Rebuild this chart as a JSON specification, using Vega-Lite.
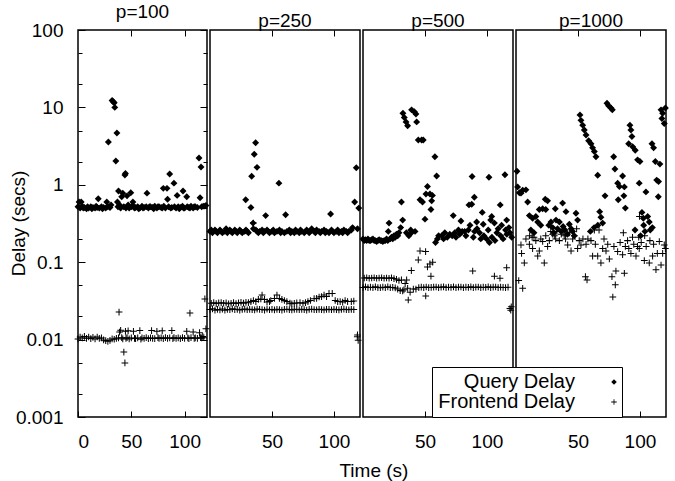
{
"$schema":"https://vega.github.io/schema/vega-lite/v6.json",
"padding":{"left":8,"top":2,"right":5,"bottom":2},
"bounds":"flush",
"spacing":3,
"title":{"text":"Time (s)","orient":"bottom","anchor":"middle","offset":10,"dx":35,"fontWeight":"normal"},
"config":{
 "font":"Liberation Sans",
 "view":{"stroke":"black","strokeWidth":1.5},
 "axis":{"domain":false,"grid":false,"tickColor":"black","tickWidth":1,"labelColor":"black","labelFont":"Liberation Sans","labelFontSize":19,"titleFont":"Liberation Sans","titleFontSize":19,"titleFontWeight":"normal","titleColor":"black"},
 "title":{"font":"Liberation Sans","fontSize":19,"fontWeight":"normal","color":"black","anchor":"middle","offset":-1}
},
"resolve":{"scale":{"shape":"independent"},"legend":{"shape":"independent"}},
"datasets":{
"q100":[{"t":0,"v":0.52},{"t":1,"v":0.6},{"t":2,"v":0.5},{"t":3,"v":0.6},{"t":4,"v":0.53},{"t":5,"v":0.5},{"t":6,"v":0.51},{"t":8,"v":0.49},{"t":9,"v":0.52},{"t":10,"v":0.5},{"t":12,"v":0.52},{"t":13,"v":0.49},{"t":14,"v":0.51},{"t":16,"v":0.5},{"t":17,"v":0.53},{"t":18,"v":0.51},{"t":19,"v":0.66},{"t":20,"v":0.5},{"t":22,"v":0.52},{"t":23,"v":0.49},{"t":24,"v":0.51},{"t":26,"v":0.5},{"t":27,"v":0.6},{"t":28,"v":0.52},{"t":28.5,"v":3.57},{"t":30,"v":0.51},{"t":31,"v":0.55},{"t":32,"v":12.3},{"t":33,"v":11.8},{"t":34,"v":11.5},{"t":34.5,"v":10},{"t":35.5,"v":2.03},{"t":36.5,"v":4.67},{"t":37,"v":0.6},{"t":37.5,"v":0.52},{"t":38,"v":0.83},{"t":39,"v":0.55},{"t":40,"v":0.5},{"t":41,"v":0.7},{"t":42,"v":0.78},{"t":43,"v":0.52},{"t":44,"v":1.34},{"t":44.5,"v":1.4},{"t":45,"v":0.5},{"t":46,"v":0.72},{"t":47,"v":0.55},{"t":48,"v":0.5},{"t":49.5,"v":0.79},{"t":50,"v":0.52},{"t":51.5,"v":0.6},{"t":52,"v":0.53},{"t":53,"v":0.5},{"t":54,"v":0.51},{"t":56,"v":0.52},{"t":57,"v":0.49},{"t":58,"v":0.5},{"t":60,"v":0.53},{"t":61,"v":0.5},{"t":62,"v":0.51},{"t":64,"v":0.52},{"t":64.7,"v":0.78},{"t":66,"v":0.5},{"t":67,"v":0.52},{"t":68,"v":0.52},{"t":70,"v":0.51},{"t":71,"v":0.49},{"t":72,"v":0.53},{"t":74,"v":0.5},{"t":75,"v":0.52},{"t":76,"v":0.52},{"t":78,"v":0.51},{"t":79,"v":0.5},{"t":80,"v":0.9},{"t":80.5,"v":0.53},{"t":82,"v":0.5},{"t":83.5,"v":0.9},{"t":84,"v":0.65},{"t":85,"v":0.52},{"t":86,"v":1.38},{"t":87,"v":0.5},{"t":88,"v":0.51},{"t":90,"v":1.05},{"t":90.5,"v":0.52},{"t":92,"v":0.5},{"t":93,"v":0.73},{"t":94,"v":0.52},{"t":95,"v":0.49},{"t":96,"v":0.51},{"t":98,"v":0.53},{"t":98.5,"v":0.83},{"t":99,"v":0.5},{"t":100,"v":0.5},{"t":102,"v":0.7},{"t":102.5,"v":0.52},{"t":104,"v":0.51},{"t":105,"v":0.5},{"t":106,"v":0.53},{"t":108,"v":0.5},{"t":109,"v":0.52},{"t":110,"v":0.52},{"t":112,"v":0.51},{"t":113.5,"v":2.22},{"t":114.5,"v":0.68},{"t":115.4,"v":1.7},{"t":116,"v":0.52},{"t":117.5,"v":0.53},{"t":119,"v":0.53},{"t":120,"v":0.54}],
"f100":[{"t":0,"v":0.0102},{"t":2,"v":0.0108},{"t":4,"v":0.0105},{"t":6,"v":0.011},{"t":8,"v":0.0104},{"t":10,"v":0.0108},{"t":12,"v":0.0103},{"t":14,"v":0.0107},{"t":16,"v":0.0102},{"t":18,"v":0.0108},{"t":20,"v":0.0104},{"t":22,"v":0.0105},{"t":24,"v":0.0099},{"t":26,"v":0.0097},{"t":28,"v":0.0095},{"t":30,"v":0.0098},{"t":32,"v":0.0102},{"t":34,"v":0.0101},{"t":36,"v":0.0104},{"t":38,"v":0.0105},{"t":38.5,"v":0.0227},{"t":39,"v":0.0125},{"t":40,"v":0.0132},{"t":41,"v":0.0106},{"t":42,"v":0.0102},{"t":43,"v":0.0069},{"t":44,"v":0.005},{"t":44.5,"v":0.0128},{"t":45,"v":0.0104},{"t":46,"v":0.0106},{"t":47,"v":0.013},{"t":48,"v":0.0102},{"t":50,"v":0.0105},{"t":52,"v":0.0128},{"t":53,"v":0.0104},{"t":54,"v":0.0103},{"t":56,"v":0.0105},{"t":58,"v":0.0131},{"t":59,"v":0.0101},{"t":60,"v":0.0105},{"t":62,"v":0.0104},{"t":64,"v":0.0106},{"t":66,"v":0.0103},{"t":68,"v":0.0105},{"t":69,"v":0.0131},{"t":70,"v":0.0104},{"t":72,"v":0.0103},{"t":74,"v":0.0128},{"t":75,"v":0.0106},{"t":76,"v":0.0104},{"t":78,"v":0.0105},{"t":79,"v":0.013},{"t":80,"v":0.0103},{"t":82,"v":0.0106},{"t":84,"v":0.0104},{"t":86,"v":0.0105},{"t":88,"v":0.0131},{"t":89,"v":0.0103},{"t":90,"v":0.0106},{"t":92,"v":0.0104},{"t":94,"v":0.0105},{"t":96,"v":0.0103},{"t":98,"v":0.0106},{"t":100,"v":0.0104},{"t":102,"v":0.0128},{"t":103,"v":0.0105},{"t":104,"v":0.0103},{"t":105,"v":0.022},{"t":106,"v":0.0106},{"t":108,"v":0.0125},{"t":109,"v":0.0104},{"t":110,"v":0.0105},{"t":112,"v":0.0104},{"t":114,"v":0.0123},{"t":115,"v":0.0106},{"t":116,"v":0.0105},{"t":117,"v":0.011},{"t":118,"v":0.0106},{"t":119,"v":0.0335},{"t":120,"v":0.0138}],
"q250":[{"t":0,"v":0.25},{"t":1,"v":0.26},{"t":2,"v":0.24},{"t":4,"v":0.26},{"t":5,"v":0.25},{"t":6,"v":0.24},{"t":8,"v":0.26},{"t":9,"v":0.25},{"t":10,"v":0.24},{"t":12,"v":0.25},{"t":13,"v":0.27},{"t":14,"v":0.24},{"t":16,"v":0.26},{"t":17,"v":0.25},{"t":18,"v":0.24},{"t":20,"v":0.26},{"t":21,"v":0.25},{"t":22,"v":0.24},{"t":24,"v":0.26},{"t":25,"v":0.25},{"t":26,"v":0.24},{"t":28,"v":0.25},{"t":28.8,"v":0.64},{"t":29,"v":0.26},{"t":30,"v":0.25},{"t":31,"v":0.24},{"t":33,"v":0.51},{"t":33.6,"v":1.29},{"t":34.7,"v":0.32},{"t":35.7,"v":2.48},{"t":36.8,"v":3.5},{"t":37.9,"v":1.68},{"t":35,"v":0.27},{"t":37,"v":0.26},{"t":38,"v":0.25},{"t":39,"v":0.24},{"t":40,"v":0.25},{"t":42,"v":0.26},{"t":43,"v":0.24},{"t":44,"v":0.25},{"t":44.9,"v":0.4},{"t":46,"v":0.26},{"t":47,"v":0.25},{"t":48,"v":0.24},{"t":50,"v":0.25},{"t":51,"v":0.26},{"t":52,"v":0.24},{"t":54,"v":0.25},{"t":55.6,"v":1.05},{"t":56,"v":0.26},{"t":57,"v":0.24},{"t":58,"v":0.25},{"t":60,"v":0.24},{"t":61,"v":0.41},{"t":62,"v":0.25},{"t":64,"v":0.26},{"t":65,"v":0.24},{"t":66,"v":0.25},{"t":68,"v":0.24},{"t":69,"v":0.26},{"t":70,"v":0.25},{"t":72,"v":0.24},{"t":73,"v":0.26},{"t":74,"v":0.25},{"t":76,"v":0.24},{"t":77,"v":0.25},{"t":78,"v":0.26},{"t":80,"v":0.24},{"t":81,"v":0.25},{"t":82,"v":0.27},{"t":84,"v":0.25},{"t":85,"v":0.24},{"t":86,"v":0.26},{"t":88,"v":0.25},{"t":89,"v":0.24},{"t":90,"v":0.25},{"t":92,"v":0.26},{"t":93,"v":0.24},{"t":94,"v":0.25},{"t":96,"v":0.24},{"t":97.3,"v":0.42},{"t":98,"v":0.26},{"t":99,"v":0.25},{"t":100,"v":0.24},{"t":102,"v":0.25},{"t":103,"v":0.26},{"t":104,"v":0.24},{"t":106,"v":0.25},{"t":107,"v":0.24},{"t":108,"v":0.26},{"t":110,"v":0.25},{"t":111,"v":0.24},{"t":112,"v":0.25},{"t":114,"v":0.26},{"t":115,"v":0.28},{"t":116.7,"v":0.6},{"t":118,"v":1.66},{"t":119,"v":0.27},{"t":120,"v":0.5}],
"f250":[{"t":1,"v":0.0295},{"t":3,"v":0.03},{"t":5,"v":0.0292},{"t":7,"v":0.0298},{"t":9,"v":0.03},{"t":11,"v":0.0295},{"t":13,"v":0.0298},{"t":15,"v":0.029},{"t":17,"v":0.0295},{"t":19,"v":0.03},{"t":21,"v":0.0292},{"t":23,"v":0.0298},{"t":25,"v":0.0302},{"t":27,"v":0.0296},{"t":29,"v":0.0303},{"t":31,"v":0.03},{"t":33,"v":0.031},{"t":35,"v":0.032},{"t":37,"v":0.031},{"t":39,"v":0.033},{"t":41,"v":0.0335},{"t":42,"v":0.0377},{"t":44,"v":0.033},{"t":46,"v":0.0307},{"t":48,"v":0.031},{"t":49,"v":0.032},{"t":52,"v":0.034},{"t":54,"v":0.0377},{"t":56,"v":0.034},{"t":58,"v":0.033},{"t":60,"v":0.032},{"t":62,"v":0.031},{"t":64.5,"v":0.0296},{"t":66,"v":0.029},{"t":68,"v":0.0295},{"t":70,"v":0.0298},{"t":72.6,"v":0.03},{"t":75,"v":0.0295},{"t":77,"v":0.03},{"t":79,"v":0.031},{"t":81,"v":0.032},{"t":84,"v":0.0338},{"t":86,"v":0.034},{"t":88,"v":0.0355},{"t":90,"v":0.036},{"t":92,"v":0.0377},{"t":94,"v":0.036},{"t":96,"v":0.0395},{"t":98.6,"v":0.0395},{"t":101,"v":0.032},{"t":103,"v":0.031},{"t":105,"v":0.031},{"t":107,"v":0.0305},{"t":109,"v":0.032},{"t":111,"v":0.031},{"t":114,"v":0.031},{"t":116,"v":0.0315},{"t":0,"v":0.0245},{"t":2,"v":0.025},{"t":4,"v":0.024},{"t":6,"v":0.0245},{"t":8,"v":0.0242},{"t":10,"v":0.0248},{"t":12,"v":0.024},{"t":14,"v":0.0245},{"t":16,"v":0.0243},{"t":18,"v":0.025},{"t":20,"v":0.0244},{"t":22,"v":0.0246},{"t":24,"v":0.0241},{"t":26,"v":0.0245},{"t":28,"v":0.0248},{"t":30,"v":0.0243},{"t":32,"v":0.0246},{"t":34,"v":0.0244},{"t":36,"v":0.0242},{"t":38,"v":0.0248},{"t":40,"v":0.0245},{"t":42,"v":0.0244},{"t":44,"v":0.0241},{"t":46,"v":0.0247},{"t":48,"v":0.0243},{"t":50,"v":0.0245},{"t":52,"v":0.0242},{"t":54,"v":0.0246},{"t":56,"v":0.0244},{"t":58,"v":0.0241},{"t":60,"v":0.0245},{"t":62,"v":0.0247},{"t":64,"v":0.0244},{"t":66,"v":0.0242},{"t":68,"v":0.0246},{"t":70,"v":0.0245},{"t":72,"v":0.0243},{"t":74,"v":0.0246},{"t":76,"v":0.0244},{"t":78,"v":0.0241},{"t":80,"v":0.0245},{"t":82,"v":0.0247},{"t":84,"v":0.0244},{"t":86,"v":0.0243},{"t":88,"v":0.0246},{"t":90,"v":0.0244},{"t":92,"v":0.0242},{"t":94,"v":0.0246},{"t":96,"v":0.0245},{"t":98,"v":0.0243},{"t":100,"v":0.0246},{"t":102,"v":0.0244},{"t":104,"v":0.0242},{"t":106,"v":0.0245},{"t":108,"v":0.0247},{"t":110,"v":0.0244},{"t":112,"v":0.0243},{"t":114,"v":0.0246},{"t":116,"v":0.0244},{"t":35,"v":0.32},{"t":118.8,"v":0.0109},{"t":119.5,"v":0.0098},{"t":119,"v":0.0115}],
"q500":[{"t":0,"v":0.2},{"t":1,"v":0.19},{"t":2,"v":0.195},{"t":3,"v":0.19},{"t":4,"v":0.2},{"t":5,"v":0.19},{"t":6,"v":0.19},{"t":7,"v":0.195},{"t":8,"v":0.2},{"t":9,"v":0.19},{"t":10,"v":0.19},{"t":11,"v":0.185},{"t":12,"v":0.19},{"t":13,"v":0.195},{"t":14,"v":0.19},{"t":15,"v":0.19},{"t":16,"v":0.185},{"t":17,"v":0.19},{"t":18,"v":0.19},{"t":19,"v":0.2},{"t":20,"v":0.19},{"t":20.4,"v":0.25},{"t":21,"v":0.32},{"t":22,"v":0.2},{"t":23,"v":0.21},{"t":24,"v":0.2},{"t":25,"v":0.22},{"t":26,"v":0.21},{"t":27,"v":0.23},{"t":28,"v":0.22},{"t":29,"v":0.24},{"t":30.4,"v":0.28},{"t":31,"v":0.6},{"t":32,"v":0.35},{"t":32.2,"v":8.4},{"t":33.3,"v":7.4},{"t":34.7,"v":6.5},{"t":36,"v":5.8},{"t":35,"v":0.24},{"t":37,"v":0.22},{"t":38.5,"v":0.26},{"t":39,"v":0.24},{"t":39.2,"v":9.3},{"t":41.4,"v":8.8},{"t":42.7,"v":8.2},{"t":43.3,"v":6.5},{"t":42,"v":0.25},{"t":44.6,"v":3.8},{"t":46,"v":0.64},{"t":47.3,"v":3.8},{"t":48.6,"v":3.8},{"t":48,"v":0.6},{"t":50,"v":0.36},{"t":50.8,"v":0.76},{"t":52,"v":0.95},{"t":54,"v":0.76},{"t":54.8,"v":0.48},{"t":55.4,"v":0.62},{"t":56,"v":0.73},{"t":58,"v":2.3},{"t":59.4,"v":1.3},{"t":58.5,"v":0.18},{"t":60,"v":0.2},{"t":61,"v":0.22},{"t":63.5,"v":0.22},{"t":65,"v":0.2},{"t":66,"v":0.24},{"t":68,"v":0.21},{"t":70,"v":0.23},{"t":72,"v":0.22},{"t":72.8,"v":0.4},{"t":74,"v":0.24},{"t":75,"v":0.21},{"t":77,"v":0.26},{"t":78,"v":0.23},{"t":79,"v":0.34},{"t":80,"v":0.25},{"t":82,"v":0.25},{"t":83,"v":0.22},{"t":85,"v":0.26},{"t":85.5,"v":0.55},{"t":86.3,"v":0.3},{"t":87.7,"v":0.56},{"t":88,"v":1.28},{"t":89,"v":0.21},{"t":89.8,"v":0.69},{"t":90,"v":0.25},{"t":91.7,"v":0.33},{"t":92,"v":0.27},{"t":94,"v":0.24},{"t":95,"v":0.2},{"t":96.2,"v":0.44},{"t":97,"v":0.31},{"t":97.5,"v":0.22},{"t":99.7,"v":0.2},{"t":101,"v":0.26},{"t":101.6,"v":1.25},{"t":102,"v":0.18},{"t":103,"v":0.35},{"t":103.8,"v":0.39},{"t":104,"v":0.21},{"t":106.5,"v":0.19},{"t":106,"v":0.32},{"t":108,"v":0.24},{"t":109,"v":0.27},{"t":110.7,"v":0.55},{"t":111,"v":0.22},{"t":111.8,"v":0.3},{"t":113,"v":0.2},{"t":114.5,"v":1.35},{"t":115,"v":0.26},{"t":115.9,"v":0.35},{"t":116,"v":0.23},{"t":117.7,"v":0.28},{"t":118.5,"v":0.24},{"t":120,"v":0.21}],
"f500":[{"t":0,"v":0.047},{"t":2,"v":0.048},{"t":4,"v":0.047},{"t":6,"v":0.0475},{"t":8,"v":0.047},{"t":10,"v":0.048},{"t":12,"v":0.047},{"t":14,"v":0.0468},{"t":16,"v":0.0475},{"t":18,"v":0.047},{"t":20,"v":0.048},{"t":22,"v":0.047},{"t":24,"v":0.0472},{"t":26,"v":0.0465},{"t":28,"v":0.045},{"t":30,"v":0.043},{"t":32,"v":0.0425},{"t":33,"v":0.044},{"t":36,"v":0.046},{"t":38,"v":0.041},{"t":40.6,"v":0.045},{"t":42.7,"v":0.045},{"t":45,"v":0.047},{"t":47,"v":0.0475},{"t":49,"v":0.047},{"t":51,"v":0.0478},{"t":53,"v":0.047},{"t":55,"v":0.0472},{"t":57,"v":0.0475},{"t":59,"v":0.0478},{"t":61,"v":0.047},{"t":63,"v":0.0475},{"t":65,"v":0.048},{"t":67,"v":0.047},{"t":69,"v":0.0476},{"t":71,"v":0.0472},{"t":73,"v":0.048},{"t":75,"v":0.047},{"t":77,"v":0.0475},{"t":79,"v":0.0478},{"t":81,"v":0.047},{"t":83,"v":0.0476},{"t":85,"v":0.0472},{"t":87,"v":0.048},{"t":89,"v":0.047},{"t":91,"v":0.0475},{"t":93,"v":0.0478},{"t":95,"v":0.047},{"t":97,"v":0.0476},{"t":99,"v":0.0472},{"t":101,"v":0.048},{"t":103,"v":0.047},{"t":105,"v":0.0475},{"t":107,"v":0.0478},{"t":109,"v":0.047},{"t":111,"v":0.0476},{"t":113,"v":0.0472},{"t":115,"v":0.047},{"t":117,"v":0.0475},{"t":1,"v":0.0625},{"t":3,"v":0.063},{"t":5,"v":0.062},{"t":7,"v":0.0625},{"t":9,"v":0.063},{"t":11,"v":0.062},{"t":13,"v":0.0625},{"t":15,"v":0.063},{"t":17,"v":0.062},{"t":19,"v":0.0625},{"t":21,"v":0.062},{"t":23,"v":0.063},{"t":25,"v":0.0615},{"t":27,"v":0.06},{"t":29,"v":0.058},{"t":31,"v":0.059},{"t":34,"v":0.053},{"t":35.2,"v":0.059},{"t":36.5,"v":0.0325},{"t":39,"v":0.078},{"t":44.6,"v":0.107},{"t":46,"v":0.14},{"t":50.5,"v":0.137},{"t":50.6,"v":0.0366},{"t":52,"v":0.087},{"t":54,"v":0.095},{"t":54.8,"v":0.066},{"t":56.2,"v":0.1},{"t":88.5,"v":0.077},{"t":106,"v":0.066},{"t":110.5,"v":0.062},{"t":115.9,"v":0.085},{"t":118.5,"v":0.0252},{"t":119.2,"v":0.024},{"t":119.6,"v":0.0265}],
"q1000":[{"t":0.8,"v":1.5},{"t":1.3,"v":0.94},{"t":2.7,"v":0.79},{"t":4,"v":0.78},{"t":5.4,"v":0.85},{"t":8,"v":0.86},{"t":9.4,"v":0.6},{"t":10.8,"v":0.4},{"t":12,"v":0.26},{"t":13.4,"v":0.37},{"t":14.5,"v":0.24},{"t":16,"v":0.39},{"t":17.5,"v":0.33},{"t":18.8,"v":0.48},{"t":20,"v":0.3},{"t":21.5,"v":0.49},{"t":23.6,"v":0.65},{"t":24,"v":0.48},{"t":25.5,"v":0.62},{"t":26.5,"v":0.3},{"t":28.2,"v":0.33},{"t":29.6,"v":0.28},{"t":30.5,"v":0.24},{"t":31.7,"v":0.49},{"t":32.3,"v":0.35},{"t":33.5,"v":0.27},{"t":35,"v":0.33},{"t":36.5,"v":0.25},{"t":37.6,"v":0.58},{"t":38,"v":0.29},{"t":39.5,"v":0.26},{"t":40.3,"v":0.45},{"t":41.5,"v":0.23},{"t":43,"v":0.31},{"t":44.5,"v":0.27},{"t":45.7,"v":0.25},{"t":47,"v":0.22},{"t":48.4,"v":0.43},{"t":49.7,"v":0.35},{"t":51.6,"v":8},{"t":52.4,"v":6.8},{"t":53.8,"v":5.9},{"t":55.1,"v":5.1},{"t":56.5,"v":4.4},{"t":58.6,"v":3.7},{"t":60.5,"v":3.4},{"t":61.8,"v":3},{"t":63.2,"v":2.7},{"t":64.5,"v":2.3},{"t":65.9,"v":1.33},{"t":60,"v":0.25},{"t":63,"v":0.28},{"t":66,"v":0.3},{"t":67.5,"v":0.45},{"t":68.5,"v":0.38},{"t":69.9,"v":0.32},{"t":71.8,"v":0.72},{"t":73.4,"v":11.3},{"t":74.7,"v":10.5},{"t":76.6,"v":9.8},{"t":77.7,"v":9.3},{"t":78.8,"v":2.3},{"t":79.8,"v":1.6},{"t":82,"v":1.05},{"t":82.5,"v":0.64},{"t":83.4,"v":0.95},{"t":86,"v":1.3},{"t":87,"v":0.72},{"t":87.4,"v":0.94},{"t":88.2,"v":0.5},{"t":90.9,"v":3.4},{"t":91.9,"v":5.9},{"t":92.7,"v":5.1},{"t":93.5,"v":4.2},{"t":94.1,"v":3.1},{"t":96.2,"v":2.8},{"t":96,"v":0.26},{"t":98.1,"v":2.1},{"t":99.4,"v":1.05},{"t":100,"v":2},{"t":100.5,"v":0.22},{"t":101.6,"v":0.44},{"t":102.7,"v":0.37},{"t":103,"v":0.3},{"t":104,"v":0.25},{"t":104.8,"v":0.81},{"t":106.2,"v":0.39},{"t":107.5,"v":0.33},{"t":108.3,"v":0.26},{"t":109.7,"v":3.4},{"t":110,"v":0.28},{"t":111,"v":3},{"t":112.4,"v":2},{"t":113.5,"v":1.15},{"t":114.8,"v":0.7},{"t":115,"v":1.1},{"t":116.1,"v":1.85},{"t":117,"v":9.3},{"t":117.7,"v":7.2},{"t":118.3,"v":8.4},{"t":119.6,"v":6.2},{"t":120.5,"v":9.8}],
"f1000":[{"t":2.2,"v":0.058},{"t":4,"v":0.167},{"t":4.5,"v":0.13},{"t":5.4,"v":0.046},{"t":6.7,"v":0.098},{"t":8,"v":0.2},{"t":10.8,"v":0.17},{"t":11,"v":0.22},{"t":13,"v":0.21},{"t":13.4,"v":0.15},{"t":14.5,"v":0.21},{"t":16,"v":0.19},{"t":17.5,"v":0.12},{"t":18.8,"v":0.14},{"t":20,"v":0.2},{"t":21.5,"v":0.185},{"t":22.8,"v":0.098},{"t":24,"v":0.22},{"t":25.5,"v":0.16},{"t":26.9,"v":0.19},{"t":28,"v":0.25},{"t":29.6,"v":0.23},{"t":30.9,"v":0.22},{"t":32,"v":0.2},{"t":33,"v":0.25},{"t":35,"v":0.19},{"t":36.5,"v":0.23},{"t":38,"v":0.25},{"t":38.9,"v":0.22},{"t":40,"v":0.2},{"t":41.7,"v":0.167},{"t":43,"v":0.24},{"t":44.4,"v":0.14},{"t":45.7,"v":0.2},{"t":47,"v":0.22},{"t":48.9,"v":0.27},{"t":49.7,"v":0.15},{"t":51,"v":0.19},{"t":52.4,"v":0.167},{"t":54,"v":0.2},{"t":56,"v":0.065},{"t":56.5,"v":0.17},{"t":57.3,"v":0.059},{"t":58,"v":0.2},{"t":60.5,"v":0.19},{"t":61.8,"v":0.12},{"t":63.2,"v":0.26},{"t":64,"v":0.17},{"t":65.9,"v":0.12},{"t":67,"v":0.26},{"t":68.5,"v":0.098},{"t":69.9,"v":0.15},{"t":71,"v":0.2},{"t":72.6,"v":0.14},{"t":74,"v":0.17},{"t":75.3,"v":0.11},{"t":77.4,"v":0.065},{"t":78.1,"v":0.0355},{"t":79,"v":0.16},{"t":80.1,"v":0.051},{"t":80.6,"v":0.077},{"t":82,"v":0.137},{"t":84,"v":0.18},{"t":86,"v":0.125},{"t":86.6,"v":0.24},{"t":87.4,"v":0.072},{"t":88.2,"v":0.16},{"t":90,"v":0.19},{"t":91,"v":0.15},{"t":92.7,"v":0.13},{"t":94,"v":0.21},{"t":95,"v":0.17},{"t":96.8,"v":0.12},{"t":98,"v":0.16},{"t":99.4,"v":0.15},{"t":99,"v":0.21},{"t":99.6,"v":0.39},{"t":101,"v":0.18},{"t":103.5,"v":0.105},{"t":103.8,"v":0.22},{"t":105,"v":0.16},{"t":107.5,"v":0.098},{"t":108,"v":0.19},{"t":110.2,"v":0.12},{"t":111,"v":0.17},{"t":112.9,"v":0.08},{"t":114,"v":0.13},{"t":115.6,"v":0.185},{"t":117,"v":0.092},{"t":118.3,"v":0.13},{"t":119.6,"v":0.167},{"t":120.5,"v":0.15}]
},
"hconcat":[
{"width":129,"height":387,"title":{"text":"p=100","fontWeight":"normal"},
 "layer":[
  {"data":{"name":"q100"},"mark":{"type":"point","shape":"diamond","filled":true,"color":"black","opacity":1,"size":48},
   "encoding":{
    "x":{"field":"t","type":"quantitative","scale":{"domain":[0,121],"nice":false,"zero":false},"axis":{"orient":"bottom","values":[0,50,100],"title":null,"tickSize":-6,"labelPadding":21}},
    "y":{"field":"v","type":"quantitative","scale":{"type":"log","domain":[0.001,100],"nice":false},"axis":{"orient":"left","values":[0.001,0.002,0.005,0.01,0.02,0.05,0.1,0.2,0.5,1,2,5,10,20,50,100],"format":"~g","labelExpr":"indexof([0.001,0.01,0.1,1,10,100], datum.value) >= 0 ? datum.label : ''","tickSize":{"expr":"indexof([0.001,0.01,0.1,1,10,100], datum.value) >= 0 ? -7 : -4"},"labelPadding":22,"title":"Delay (secs)","titleX":-60,"titleY":193,"titleAngle":270,"titleAlign":"center","titleBaseline":"middle"}}}},
  {"data":{"name":"f100"},"mark":{"type":"point","shape":"M-1,-0.15H-0.15V-1H0.15V-0.15H1V0.15H0.15V1H-0.15V0.15H-1Z","filled":true,"color":"black","opacity":1,"size":45,"strokeWidth":0},
   "encoding":{
    "x":{"field":"t","type":"quantitative","axis":{"orient":"top","values":[50,100],"labels":false,"title":null,"tickSize":-6}},
    "y":{"field":"v","type":"quantitative","axis":{"orient":"right","values":[0.001,0.002,0.005,0.01,0.02,0.05,0.1,0.2,0.5,1,2,5,10,20,50,100],"labels":false,"title":null,"tickSize":{"expr":"indexof([0.001,0.01,0.1,1,10,100], datum.value) >= 0 ? -7 : -4"}}}}}
 ],
 "resolve":{"axis":{"x":"independent","y":"independent"}}
},
{"width":150,"height":387,"title":{"text":"p=250","fontWeight":"normal"},
 "layer":[
  {"data":{"name":"q250"},"mark":{"type":"point","shape":"diamond","filled":true,"color":"black","opacity":1,"size":48},
   "encoding":{
    "x":{"field":"t","type":"quantitative","scale":{"domain":[0,121],"nice":false,"zero":false},"axis":{"orient":"bottom","values":[50,100],"title":null,"tickSize":-6,"labelPadding":21}},
    "y":{"field":"v","type":"quantitative","scale":{"type":"log","domain":[0.001,100],"nice":false},"axis":null}}},
  {"data":{"name":"f250"},"mark":{"type":"point","shape":"M-1,-0.15H-0.15V-1H0.15V-0.15H1V0.15H0.15V1H-0.15V0.15H-1Z","filled":true,"color":"black","opacity":1,"size":45,"strokeWidth":0},
   "encoding":{
    "x":{"field":"t","type":"quantitative","axis":{"orient":"top","values":[50,100],"labels":false,"title":null,"tickSize":-6}},
    "y":{"field":"v","type":"quantitative","axis":null}}}
 ],
 "resolve":{"axis":{"x":"independent"}}
},
{"width":150,"height":387,"title":{"text":"p=500","fontWeight":"normal"},
 "layer":[
  {"data":{"name":"q500"},"mark":{"type":"point","shape":"diamond","filled":true,"color":"black","opacity":1,"size":48},
   "encoding":{
    "x":{"field":"t","type":"quantitative","scale":{"domain":[0,121],"nice":false,"zero":false},"axis":{"orient":"bottom","values":[50,100],"title":null,"tickSize":-6,"labelPadding":21}},
    "y":{"field":"v","type":"quantitative","scale":{"type":"log","domain":[0.001,100],"nice":false},"axis":null}}},
  {"data":{"name":"f500"},"mark":{"type":"point","shape":"M-1,-0.15H-0.15V-1H0.15V-0.15H1V0.15H0.15V1H-0.15V0.15H-1Z","filled":true,"color":"black","opacity":1,"size":45,"strokeWidth":0},
   "encoding":{
    "x":{"field":"t","type":"quantitative","axis":{"orient":"top","values":[50,100],"labels":false,"title":null,"tickSize":-6}},
    "y":{"field":"v","type":"quantitative","axis":null}}}
 ],
 "resolve":{"axis":{"x":"independent"}}
},
{"width":150,"height":387,"title":{"text":"p=1000","fontWeight":"normal"},
 "layer":[
  {"data":{"name":"q1000"},"mark":{"type":"point","filled":true,"color":"black","opacity":1,"size":48},
   "encoding":{
    "x":{"field":"t","type":"quantitative","scale":{"domain":[0,121],"nice":false,"zero":false},"axis":{"orient":"bottom","values":[50,100],"title":null,"tickSize":-6,"labelPadding":21}},
    "y":{"field":"v","type":"quantitative","scale":{"type":"log","domain":[0.001,100],"nice":false},"axis":null},
    "shape":{"datum":"Query Delay","type":"nominal","scale":{"domain":["Query Delay","Frontend Delay"],"range":["diamond","M-1,-0.15H-0.15V-1H0.15V-0.15H1V0.15H0.15V1H-0.15V0.15H-1Z"]},
     "legend":{"orient":"none","legendX":-84,"legendY":337,"title":null,"fillColor":"white","strokeColor":"black","padding":5,"labelFont":"Liberation Sans","labelFontSize":20,"labelColor":"black","labelAlign":"right","labelOffset":-49,"symbolOffset":167,"symbolSize":30,"rowPadding":0,"labelLimit":300,"symbolFillColor":"black","symbolStrokeWidth":0,"symbolOpacity":1,
      "encode":{"symbols":{"update":{"fill":{"value":"black"},"opacity":{"value":1}}}}}}}},
  {"data":{"name":"f1000"},"mark":{"type":"point","filled":true,"color":"black","opacity":1,"size":45,"strokeWidth":0},
   "encoding":{
    "x":{"field":"t","type":"quantitative","axis":{"orient":"top","values":[50,100],"labels":false,"title":null,"tickSize":-6}},
    "y":{"field":"v","type":"quantitative","axis":null},
    "shape":{"datum":"Frontend Delay","type":"nominal"}}}
 ],
 "resolve":{"axis":{"x":"independent"}}
}
]
}
